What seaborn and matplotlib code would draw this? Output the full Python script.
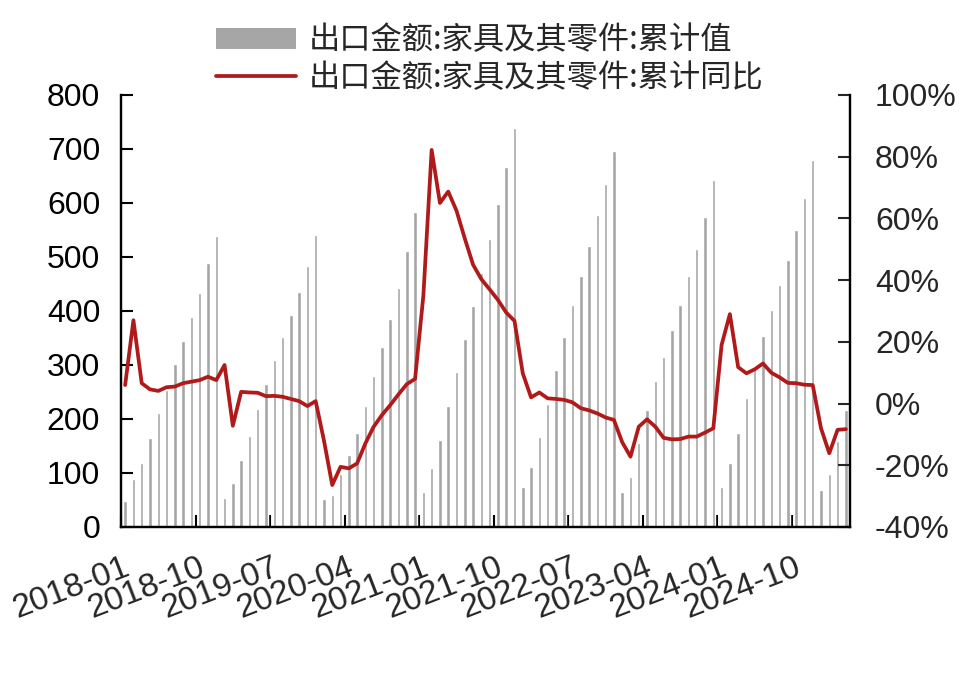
import numpy as np
import pandas as pd
import matplotlib
matplotlib.use('Agg')
import matplotlib.pyplot as plt
from matplotlib.patches import Patch
from matplotlib.lines import Line2D
import seaborn as sns

# 月份 2018-01 ~ 2025-04
months = pd.date_range('2018-01-01', '2025-04-01', freq='MS').strftime('%Y-%m')

# 出口金额:家具及其零件:累计值 (亿美元)
value_2018 = [48, 89, 118, 164, 212, 254, 302, 345, 388, 434, 488, 538]
value_2019 = [54, 82, 125, 169, 218, 264, 309, 352, 393, 436, 484, 541]
value_2020 = [51, 60, 98, 133, 174, 224, 280, 334, 385, 443, 511, 583]
value_2021 = [65, 109, 161, 224, 287, 349, 409, 470, 533, 598, 667, 738]
value_2022 = [74, 111, 167, 228, 291, 352, 411, 465, 520, 577, 635, 696]
value_2023 = [64, 93, 156, 217, 270, 314, 364, 411, 465, 515, 575, 643]
value_2024 = [75, 119, 174, 238, 290, 354, 401, 448, 495, 550, 610, 680]
value_2025 = [69, 98, 160, 217]

# 出口金额:家具及其零件:累计同比 (%)
yoy_2018 = [6, 27, 6.6, 4.6, 4.1, 5.3, 5.5, 6.6, 7.1, 7.6, 8.7, 7.6]
yoy_2019 = [12.5, -7.2, 3.8, 3.6, 3.5, 2.4, 2.5, 2.2, 1.5, 0.8, -0.8, 0.8]
yoy_2020 = [-12, -26.4, -20.5, -21, -19.4, -12.9, -7.5, -3.7, -0.5, 3, 6.3, 8]
yoy_2021 = [35, 82.2, 65, 68.7, 62.5, 53.5, 45, 40.3, 37, 33.6, 29.5, 26.8]
yoy_2022 = [9.8, 2, 3.6, 1.7, 1.5, 1.2, 0.4, -1.5, -2.2, -3.2, -4.5, -5.3]
yoy_2023 = [-12.5, -17.2, -7.5, -5.1, -7.5, -11.1, -11.6, -11.5, -10.7, -10.7, -9.4, -8]
yoy_2024 = [19, 29, 11.8, 9.8, 11.1, 13, 10, 8.5, 6.7, 6.6, 6.1, 6]
yoy_2025 = [-8, -16.1, -8.5, -8.3]

tick_idx = [0, 9, 18, 27, 36, 45, 54, 63, 72, 81]
tick_labels = ['2018-01', '2018-10', '2019-07', '2020-04', '2021-01',
               '2021-10', '2022-07', '2023-04', '2024-01', '2024-10']

label_bar = '出口金额:家具及其零件:累计值'
label_line = '出口金额:家具及其零件:累计同比'

export_value = (value_2018 + value_2019 + value_2020 + value_2021
                + value_2022 + value_2023 + value_2024 + value_2025)
export_yoy = (yoy_2018 + yoy_2019 + yoy_2020 + yoy_2021
              + yoy_2022 + yoy_2023 + yoy_2024 + yoy_2025)

df = pd.DataFrame({'month': months, 'value': export_value, 'yoy': export_yoy})

sns.set_style('ticks')
plt.rcParams['font.family'] = ['Liberation Sans', 'Noto Sans CJK SC', 'DejaVu Sans']
plt.rcParams['axes.unicode_minus'] = False

bar_color = '#A6A6A6'
line_color = '#B01A1A'

fig, ax = plt.subplots(figsize=(9.8, 6.94), dpi=100)
fig.subplots_adjust(left=121/980, right=850/980, bottom=1-527/694, top=1-95/694)

sns.barplot(data=df, x='month', y='value', color=bar_color, width=0.42,
            saturation=1, ax=ax)
ax2 = ax.twinx()
sns.lineplot(x=np.arange(len(df)), y=df['yoy'].values, color=line_color,
             lw=2.7, solid_joinstyle='round', ax=ax2)

ax.set_xlim(-0.5, len(df) - 0.5)
ax.set_ylim(0, 800)
ax.set_yticks(range(0, 801, 100))
ax2.set_ylim(-40, 100)
ax2.set_yticks(range(-40, 101, 20))
ax2.yaxis.set_major_formatter('{x:.0f}%')

# 刻度线在类别边界, 标签稍微向右偏移
ax.set_xticks(np.array(tick_idx) - 0.5, labels=[''] * len(tick_idx))
ax.set_xticks(np.array(tick_idx) + 1.1, labels=tick_labels, minor=True)
plt.setp(ax.get_xticklabels(minor=True), rotation=21, ha='right')

ax.set_xlabel('')
ax.set_ylabel('')
ax2.set_ylabel('')

ax.tick_params(axis='both', direction='in', length=8.5, width=1.5, labelsize=23, colors='black')
ax.tick_params(axis='y', pad=15)
ax.tick_params(axis='x', which='minor', length=0, pad=18, labelsize=24)
ax2.tick_params(axis='y', direction='in', length=8.5, width=1.5, labelsize=23, pad=18)

for a in (ax, ax2):
    a.spines['top'].set_visible(False)
    for s in ('left', 'right', 'bottom'):
        a.spines[s].set_linewidth(1.6)
        a.spines[s].set_color('black')

handles = [Patch(facecolor=bar_color, edgecolor='none'),
           Line2D([], [], color=line_color, lw=2.7)]
fig.legend(handles, [label_bar, label_line], loc='center left',
           bbox_to_anchor=(216/980, 1 - 59/694), frameon=False,
           prop={'family': ['Noto Sans CJK SC'], 'size': 22.5},
           handlelength=2.55, handleheight=0.65, handletextpad=0.42,
           labelspacing=0.18, borderpad=0, borderaxespad=0)

fig.savefig('out.png', dpi=100)
